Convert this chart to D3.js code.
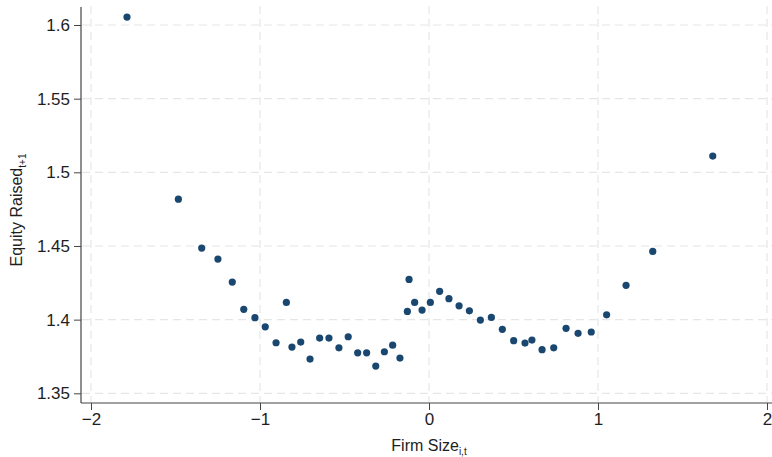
<!DOCTYPE html>
<html>
<head>
<meta charset="utf-8">
<script src="https://cdn.jsdelivr.net/npm/d3@7"></script>
<style>
  body { margin: 0; background: #fff; }
  text { font-family: "Liberation Sans", Arial, sans-serif; fill: #1e1e1e; }
</style>
</head>
<body>
<div id="chart"></div>
<script>
// binned scatter: firm size vs equity raised
var firmSize = [-1.787, -1.483, -1.345, -1.249, -1.164, -1.096, -1.030, -0.969, -0.905, -0.844,
    -0.811, -0.759, -0.704, -0.647, -0.592, -0.533, -0.478, -0.422, -0.369, -0.315,
    -0.264, -0.215, -0.172, -0.128, -0.118, -0.085, -0.041, 0.008, 0.063, 0.118,
    0.178, 0.239, 0.304, 0.369, 0.434, 0.501, 0.568, 0.609, 0.669, 0.738,
    0.811, 0.882, 0.960, 1.051, 1.166, 1.324, 1.679];
var equityRaised = [1.6054, 1.4818, 1.4486, 1.4411, 1.4255, 1.4070, 1.4013, 1.3951, 1.3843, 1.4117,
    1.3814, 1.3848, 1.3732, 1.3875, 1.3875, 1.3809, 1.3884, 1.3775, 1.3775, 1.3685,
    1.3782, 1.3827, 1.3739, 1.4056, 1.4273, 1.4117, 1.4065, 1.4117, 1.4192, 1.4142,
    1.4094, 1.4060, 1.3997, 1.4015, 1.3934, 1.3857, 1.3841, 1.3861, 1.3796, 1.3809,
    1.3941, 1.3907, 1.3916, 1.4033, 1.4233, 1.4463, 1.5110];
var xTicks = [-2, -1, 0, 1, 2];
var yTicks = [1.35, 1.4, 1.45, 1.5, 1.55, 1.6];

var w = 772;
var h = 457;

var svg = d3.select("#chart")
    .append("svg")
    .attr("width", w)
    .attr("height", h);

var xscale = d3.scaleLinear()
    .domain([-2, 2])
    .range([91, 767]);

var yscale = d3.scaleLinear()
    .domain([1.35, 1.6])
    .range([393.3, 25]);

var axisX = 81;  // where the y axis line sits
var axisY = 403; // where the x axis line sits

// dashed grid
svg.append("g").selectAll("line")
    .data(yTicks)
    .enter().append("line")
    .attr("x1", axisX + 1).attr("x2", w)
    .attr("y1", function(d) { return yscale(d); })
    .attr("y2", function(d) { return yscale(d); })
    .attr("stroke", "#e6e6e6")
    .attr("stroke-width", 1.2)
    .attr("stroke-dasharray", "8,5");

svg.append("g").selectAll("line")
    .data(xTicks)
    .enter().append("line")
    .attr("x1", function(d) { return xscale(d); })
    .attr("x2", function(d) { return xscale(d); })
    .attr("y1", 6).attr("y2", axisY - 1)
    .attr("stroke", "#e6e6e6")
    .attr("stroke-width", 1.2)
    .attr("stroke-dasharray", "8,5");

// y axis
var yaxis = d3.axisLeft(yscale)
    .tickValues(yTicks)
    .tickFormat(function(d) { return d3.format("")(+d.toFixed(2)); })
    .tickSize(7)
    .tickPadding(4);

var gy = svg.append("g")
    .attr("transform", "translate(" + axisX + ",0)")
    .call(yaxis);
gy.select(".domain").remove();
gy.selectAll(".tick line").attr("stroke", "#444");
gy.selectAll(".tick text").attr("font-size", 17).attr("fill", "#1e1e1e")
    .style("font-family", "Liberation Sans, Arial, sans-serif");

// x axis
var xaxis = d3.axisBottom(xscale)
    .tickValues(xTicks)
    .tickFormat(d3.format("d"))
    .tickSize(7)
    .tickPadding(3);

var gx = svg.append("g")
    .attr("transform", "translate(0," + axisY + ")")
    .call(xaxis);
gx.select(".domain").remove();
gx.selectAll(".tick line").attr("stroke", "#444");
gx.selectAll(".tick text").attr("font-size", 17).attr("fill", "#1e1e1e")
    .style("font-family", "Liberation Sans, Arial, sans-serif");

// axis lines
svg.append("line")
    .attr("x1", axisX).attr("x2", axisX)
    .attr("y1", 7).attr("y2", axisY)
    .attr("stroke", "#444").attr("stroke-width", 1.2);
svg.append("line")
    .attr("x1", axisX).attr("x2", w)
    .attr("y1", axisY).attr("y2", axisY)
    .attr("stroke", "#444").attr("stroke-width", 1.2);

// points
svg.append("g").selectAll("circle")
    .data(firmSize)
    .enter().append("circle")
    .attr("cx", function(d) { return xscale(d); })
    .attr("cy", function(d, i) { return yscale(equityRaised[i]); })
    .attr("r", 3.6)
    .attr("fill", "#1a476f");

// axis titles with subscripts
var xt = svg.append("text")
    .attr("x", 429)
    .attr("y", 451)
    .attr("text-anchor", "middle")
    .attr("font-size", 16);
xt.append("tspan").text("Firm Size");
xt.append("tspan").attr("font-size", 10).attr("dy", 4).text("i,t");

var yt = svg.append("text")
    .attr("transform", "translate(22,210) rotate(-90)")
    .attr("text-anchor", "middle")
    .attr("font-size", 16);
yt.append("tspan").text("Equity Raised");
yt.append("tspan").attr("font-size", 10).attr("dy", 4).text("t+1");
</script>
</body>
</html>
